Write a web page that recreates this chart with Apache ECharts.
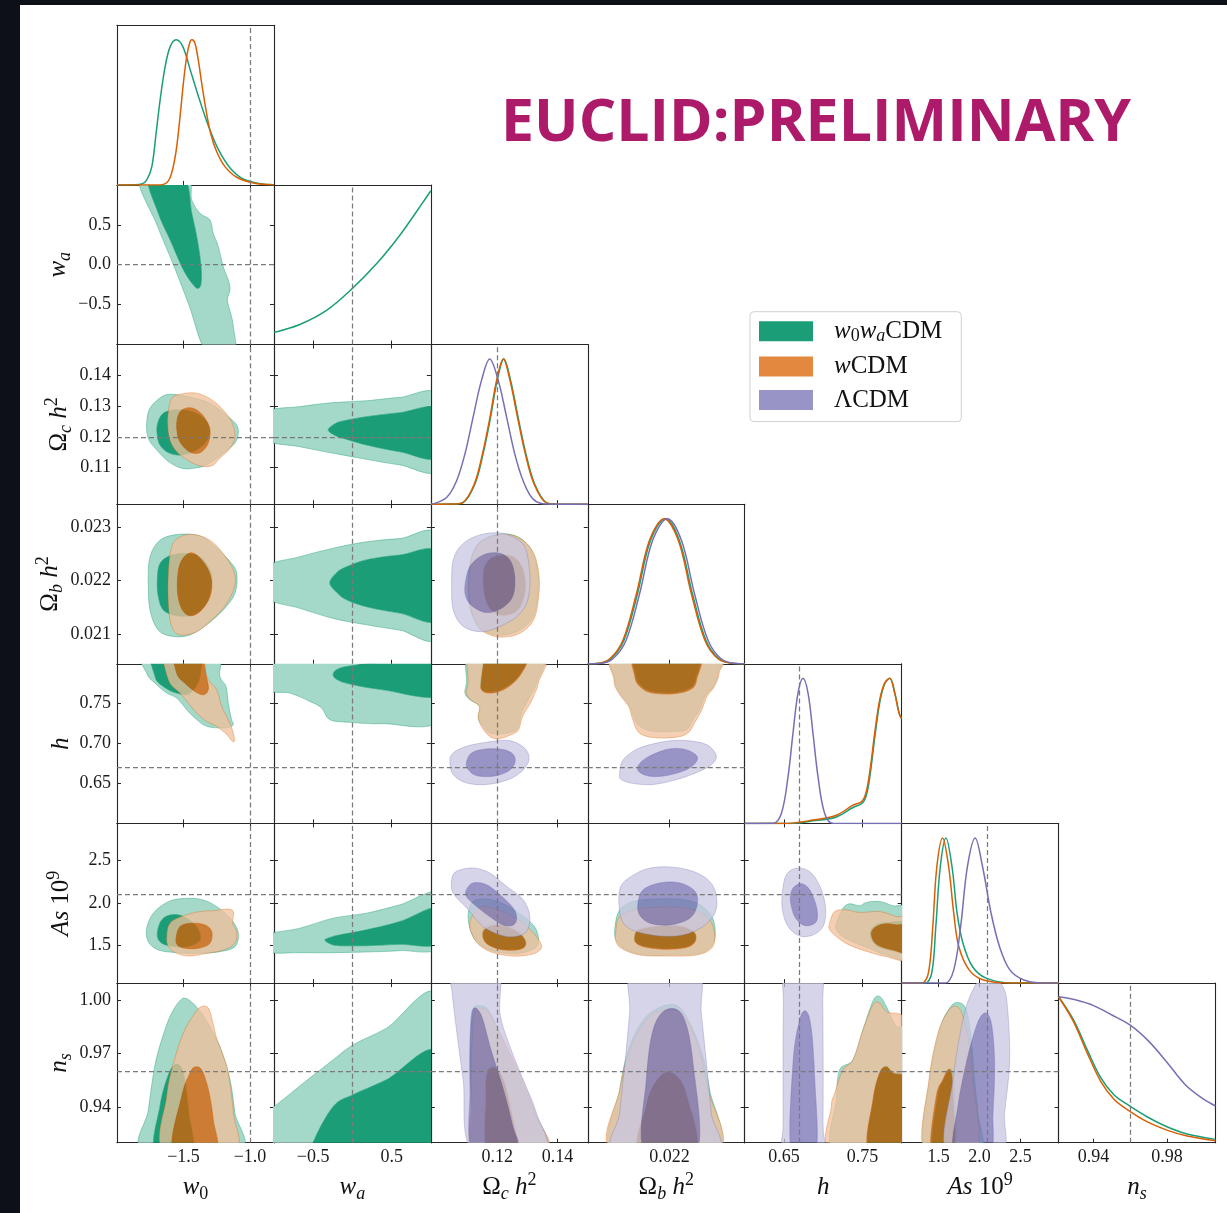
<!DOCTYPE html>
<html>
<head>
<meta charset="utf-8">
<title>Euclid preliminary triangle plot</title>
<script src="https://cdn.jsdelivr.net/npm/echarts@6/dist/echarts.min.js"></script>
<style>
  html, body { margin: 0; padding: 0; background: #0d1117; }
  #page { position: absolute; left: 20px; top: 5px; width: 1207px; height: 1208px; background: #fff; }
  #chart { position: absolute; left: 0; top: 0; width: 1227px; height: 1213px; }
</style>
</head>
<body>
<div id="page"></div>
<div id="chart"></div>
<script>
// parameter order: w0, wa, Omega_c h^2, Omega_b h^2, h, As 1e9, ns
const fiducial = [-1.0, 0.0, 0.121, 0.022, 0.67, 2.1, 0.96];
const xRange = [[-2.0, -0.82], [-1, 1], [0.098, 0.150], [0.02044, 0.02344], [0.6, 0.8], [1.05, 2.965], [0.9209, 1.0065]];
const yRange = [null, [-1, 1], [0.0981, 0.1501], [0.020437, 0.023437], [0.6, 0.8], [1.05, 2.94], [0.920, 1.0095]];
const xTicks = [[-1.5, -1.0], [-0.5, 0.5], [0.12, 0.14], [0.022], [0.65, 0.75], [1.5, 2.0, 2.5], [0.94, 0.98]];
const xTickLabels = [['−1.5', '−1.0'], ['−0.5', '0.5'], ['0.12', '0.14'], ['0.022'], ['0.65', '0.75'], ['1.5', '2.0', '2.5'], ['0.94', '0.98']];
const yTicks = [null, [-0.5, 0, 0.5], [0.11, 0.12, 0.13, 0.14], [0.021, 0.022, 0.023], [0.65, 0.70, 0.75], [1.5, 2.0, 2.5], [0.94, 0.97, 1.00]];
const yTickLabels = [null, ['−0.5', '0.0', '0.5'], ['0.11', '0.12', '0.13', '0.14'], ['0.021', '0.022', '0.023'], ['0.65', '0.70', '0.75'], ['1.5', '2.0', '2.5'], ['0.94', '0.97', '1.00']];
const axisTitles = ['{i|w}{sub|0}', '{i|w}{subi|a}', '{r|Ω}{subi|c}{r| }{i|h}{sup|2}', '{r|Ω}{subi|b}{r| }{i|h}{sup|2}', '{i|h}', '{i|As}{r| 10}{sup|9}', '{i|n}{subi|s}'];

const MODELS = ['w0waCDM', 'wCDM', 'LCDM'];
const LEGEND_LABELS = ['{i|w}{sub|0}{i|w}{subi|a}{r|CDM}', '{i|w}{r|CDM}', '{r|ΛCDM}'];

// 1D marginals [value, normalised density]
const w0_1d_g = [[-2.0,0],[-1.87,0.001],[-1.814,0.006],[-1.776,0.034],[-1.738,0.126],[-1.706,0.356],[-1.676,0.585],[-1.638,0.815],[-1.600,0.953],[-1.555,1.0],[-1.505,0.953],[-1.449,0.792],[-1.387,0.608],[-1.311,0.402],[-1.236,0.241],[-1.148,0.115],[-1.048,0.039],[-0.922,0.009],[-0.82,0.002]];
const w0_1d_o = [[-2.0,0],[-1.677,0],[-1.614,0.028],[-1.577,0.126],[-1.551,0.264],[-1.526,0.47],[-1.501,0.700],[-1.476,0.884],[-1.451,0.987],[-1.436,1.0],[-1.414,0.976],[-1.389,0.861],[-1.363,0.700],[-1.331,0.517],[-1.296,0.356],[-1.251,0.23],[-1.188,0.126],[-1.100,0.053],[-0.975,0.014],[-0.82,0.002]];
const wa_1d_g = [[-1.0,0.083],[-0.67,0.138],[-0.33,0.235],[0.0,0.387],[0.31,0.558],[0.6,0.75],[0.86,0.95],[1.0,1.06]];
const oc_1d_g = [[0.098,0],[0.1053,0.001],[0.1087,0.011],[0.1126,0.139],[0.1153,0.347],[0.1178,0.60],[0.12,0.855],[0.1222,1.0],[0.1244,0.855],[0.1269,0.60],[0.1295,0.347],[0.1324,0.139],[0.1363,0.011],[0.1396,0.001],[0.150,0]];
const oc_1d_o = [[0.098,0],[0.1051,0.001],[0.1085,0.011],[0.1124,0.139],[0.1151,0.347],[0.1176,0.60],[0.1198,0.855],[0.1220,1.0],[0.1242,0.855],[0.1267,0.60],[0.1293,0.347],[0.1322,0.139],[0.1361,0.011],[0.1394,0.001],[0.150,0]];
const oc_1d_p = [[0.098,0],[0.0988,0.002],[0.1032,0.046],[0.1065,0.16],[0.1093,0.347],[0.112,0.60],[0.1148,0.855],[0.1175,1.0],[0.1203,0.855],[0.1231,0.60],[0.1258,0.347],[0.1286,0.16],[0.1319,0.035],[0.1363,0.001],[0.150,0]];
const ob_1d_g = [[0.02044,0],[0.02063,0.002],[0.02088,0.035],[0.02113,0.161],[0.02139,0.483],[0.02164,0.851],[0.02192,1.0],[0.02219,0.851],[0.02244,0.483],[0.02270,0.161],[0.02295,0.035],[0.02324,0.002],[0.02344,0]];
const ob_1d_o = [[0.02044,0],[0.02061,0.002],[0.02086,0.035],[0.02111,0.161],[0.02137,0.483],[0.02162,0.851],[0.02190,1.0],[0.02217,0.851],[0.02242,0.483],[0.02268,0.161],[0.02293,0.035],[0.02322,0.002],[0.02344,0]];
const ob_1d_p = [[0.02044,0],[0.02067,0.002],[0.02092,0.035],[0.02117,0.161],[0.02143,0.483],[0.02168,0.851],[0.02196,1.0],[0.02223,0.851],[0.02248,0.483],[0.02274,0.161],[0.02299,0.035],[0.02328,0.002],[0.02344,0]];
const h_1d_g = [[0.6,0],[0.655,0],[0.69,0.02],[0.7168,0.045],[0.738,0.11],[0.7486,0.135],[0.7535,0.17],[0.758,0.27],[0.7622,0.437],[0.7664,0.621],[0.7727,0.851],[0.7788,0.967],[0.785,1.0],[0.7914,0.898],[0.7968,0.76],[0.80,0.72]];
const h_1d_o = [[0.6,0],[0.65,0],[0.687,0.023],[0.7168,0.057],[0.738,0.126],[0.7486,0.149],[0.7529,0.184],[0.7571,0.276],[0.7614,0.437],[0.7656,0.621],[0.772,0.851],[0.7783,0.967],[0.7847,1.0],[0.7911,0.898],[0.7966,0.76],[0.80,0.72]];
const h_1d_p = [[0.6,0],[0.636,0.001],[0.6467,0.069],[0.6552,0.322],[0.6615,0.621],[0.6679,0.898],[0.6743,1.0],[0.6807,0.898],[0.687,0.621],[0.6934,0.322],[0.7019,0.069],[0.7125,0.001],[0.8,0]];
const as_1d_g = [[1.05,0],[1.335,0],[1.417,0.069],[1.467,0.39],[1.521,0.80],[1.591,1.0],[1.665,0.80],[1.727,0.48],[1.798,0.275],[1.914,0.114],[2.08,0.034],[2.40,0.001],[2.965,0]];
const as_1d_o = [[1.05,0],[1.293,0],[1.376,0.069],[1.43,0.39],[1.479,0.80],[1.55,1.0],[1.624,0.80],[1.686,0.48],[1.748,0.25],[1.873,0.091],[2.038,0.023],[2.33,0.001],[2.965,0]];
const as_1d_p = [[1.05,0],[1.583,0],[1.686,0.091],[1.77,0.39],[1.852,0.80],[1.947,1.0],[2.038,0.80],[2.142,0.48],[2.245,0.25],[2.37,0.091],[2.535,0.023],[2.742,0.001],[2.965,0]];
const ns_1d_g = [[0.9209,1.006],[0.9291,0.845],[0.9366,0.638],[0.9438,0.45],[0.9511,0.33],[0.9588,0.26],[0.9691,0.179],[0.98,0.11],[0.991,0.06],[1.0065,0.023]];
const ns_1d_o = [[0.9209,1.006],[0.9291,0.833],[0.9366,0.616],[0.9438,0.425],[0.9511,0.30],[0.9588,0.225],[0.9691,0.145],[0.98,0.087],[0.991,0.046],[1.0065,0.014]];
const ns_1d_p = [[0.9209,1.006],[0.93,0.985],[0.94,0.945],[0.95,0.88],[0.96,0.81],[0.97,0.70],[0.98,0.555],[0.99,0.40],[1.0,0.30],[1.0065,0.253]];

// 2D contours [x, y]: 95% (outer) and 68% (inner)
const w0_wa_g95 = [[-1.83,1.1],[-1.48,1.1],[-1.438,0.812],[-1.376,0.645],[-1.301,0.561],[-1.276,0.395],[-1.238,0.227],[-1.201,-0.024],[-1.163,-0.19],[-1.15,-0.316],[-1.17,-0.441],[-1.145,-0.608],[-1.125,-0.776],[-1.12,-1.1],[-1.325,-1.1],[-1.46,-0.5],[-1.576,0.0],[-1.70,0.5]];
const w0_wa_g68 = [[-1.76,1.1],[-1.50,1.1],[-1.438,0.645],[-1.396,0.311],[-1.368,-0.024],[-1.368,-0.233],[-1.389,-0.295],[-1.425,-0.253],[-1.50,-0.065],[-1.60,0.311],[-1.689,0.645]];

const w0_oc_g95 = [[-1.777,0.1245],[-1.752,0.1294],[-1.664,0.1331],[-1.589,0.1339],[-1.464,0.1331],[-1.301,0.1310],[-1.163,0.1266],[-1.10,0.1239],[-1.088,0.1212],[-1.113,0.1180],[-1.201,0.1147],[-1.326,0.1109],[-1.426,0.1098],[-1.514,0.1098],[-1.614,0.1120],[-1.702,0.1158],[-1.765,0.1196]];
const w0_oc_g68 = [[-1.697,0.1239],[-1.664,0.1272],[-1.602,0.1286],[-1.501,0.1288],[-1.401,0.1277],[-1.326,0.1250],[-1.301,0.1217],[-1.338,0.1180],[-1.426,0.1152],[-1.526,0.1141],[-1.614,0.1149],[-1.677,0.1174],[-1.697,0.1207]];
const w0_oc_o95 = [[-1.614,0.1282],[-1.589,0.1326],[-1.526,0.1339],[-1.426,0.1344],[-1.326,0.1331],[-1.226,0.1299],[-1.138,0.1250],[-1.113,0.1201],[-1.150,0.1163],[-1.226,0.1131],[-1.288,0.1106],[-1.376,0.1106],[-1.464,0.1123],[-1.551,0.1152],[-1.602,0.1190],[-1.619,0.1239]];
const w0_oc_o68 = [[-1.551,0.1245],[-1.526,0.1282],[-1.464,0.1295],[-1.401,0.1288],[-1.338,0.1261],[-1.301,0.1223],[-1.314,0.1180],[-1.363,0.1152],[-1.426,0.1147],[-1.489,0.1163],[-1.539,0.1196]];
const wa_oc_g95 = [[-1.1,0.1280],[-0.669,0.1299],[-0.245,0.1312],[0.181,0.1318],[0.605,0.1329],[1.1,0.1335],[1.1,0.1096],[0.605,0.1109],[0.181,0.1127],[-0.245,0.1147],[-0.669,0.1168],[-1.1,0.1192]];
const wa_oc_g68 = [[-0.308,0.1223],[-0.22,0.1243],[-0.117,0.1252],[0.181,0.1266],[0.605,0.1279],[1.1,0.1290],[1.1,0.1134],[0.605,0.1152],[0.181,0.1174],[-0.117,0.1196],[-0.22,0.1205]];

const w0_ob_g95 = [[-1.765,0.02199],[-1.752,0.02245],[-1.677,0.02276],[-1.539,0.02287],[-1.376,0.02284],[-1.263,0.02264],[-1.150,0.02236],[-1.100,0.02214],[-1.113,0.02176],[-1.201,0.02145],[-1.326,0.02117],[-1.451,0.02098],[-1.577,0.02095],[-1.689,0.02107],[-1.752,0.02145]];
const w0_ob_g68 = [[-1.697,0.02199],[-1.677,0.02232],[-1.589,0.02248],[-1.476,0.02251],[-1.376,0.02245],[-1.301,0.02220],[-1.288,0.02195],[-1.326,0.02157],[-1.426,0.02136],[-1.551,0.02134],[-1.652,0.02145],[-1.689,0.02170]];
const w0_ob_o95 = [[-1.614,0.02214],[-1.589,0.02264],[-1.526,0.02282],[-1.426,0.02287],[-1.301,0.02276],[-1.201,0.02251],[-1.125,0.02220],[-1.113,0.02192],[-1.175,0.02157],[-1.276,0.02129],[-1.401,0.02104],[-1.526,0.02098],[-1.589,0.02114],[-1.614,0.02157]];
const w0_ob_o68 = [[-1.546,0.02199],[-1.526,0.02232],[-1.464,0.02251],[-1.401,0.02248],[-1.326,0.02226],[-1.288,0.02199],[-1.301,0.02170],[-1.363,0.02145],[-1.438,0.02134],[-1.501,0.02142],[-1.539,0.02167]];
const wa_ob_g95 = [[-1.1,0.02225],[-0.669,0.02245],[-0.245,0.02261],[0.181,0.02273],[0.605,0.02279],[1.1,0.02282],[1.1,0.02097],[0.605,0.02107],[0.181,0.02117],[-0.245,0.02129],[-0.669,0.02148],[-1.1,0.02169]];
const wa_ob_g68 = [[-0.287,0.02196],[-0.2,0.02215],[-0.074,0.02226],[0.181,0.02239],[0.605,0.02248],[1.1,0.02252],[1.1,0.02128],[0.605,0.02139],[0.181,0.02151],[-0.074,0.02164],[-0.2,0.02178]];
const oc_ob_g95 = [[0.1115,0.02245],[0.1142,0.02273],[0.1192,0.02286],[0.1242,0.02287],[0.1286,0.02276],[0.1319,0.02251],[0.1335,0.02214],[0.1335,0.02176],[0.1319,0.02132],[0.1275,0.02107],[0.1220,0.02098],[0.1175,0.02101],[0.1137,0.02114],[0.1109,0.02151],[0.1104,0.02199]];
const oc_ob_g68 = [[0.1153,0.02214],[0.1170,0.02239],[0.1209,0.02248],[0.1253,0.02245],[0.1280,0.02226],[0.1291,0.02199],[0.1286,0.02170],[0.1264,0.02145],[0.1220,0.02136],[0.1181,0.02145],[0.1159,0.02170]];
const oc_ob_o95 = [[0.1117,0.02245],[0.1145,0.02272],[0.1195,0.02285],[0.1245,0.02286],[0.1290,0.02274],[0.1323,0.02249],[0.1338,0.02212],[0.1338,0.02174],[0.1322,0.02128],[0.1278,0.02102],[0.1222,0.02094],[0.1177,0.02098],[0.1139,0.02112],[0.1111,0.02150],[0.1106,0.02199]];
const oc_ob_o68 = [[0.1155,0.02213],[0.1172,0.02238],[0.1211,0.02247],[0.1255,0.02244],[0.1282,0.02225],[0.1293,0.02198],[0.1288,0.02169],[0.1266,0.02144],[0.1222,0.02135],[0.1183,0.02144],[0.1161,0.02169]];
const oc_ob_p95 = [[0.1049,0.02189],[0.1054,0.02239],[0.1087,0.02270],[0.1142,0.02286],[0.1203,0.02290],[0.1253,0.02282],[0.1291,0.02264],[0.1306,0.02226],[0.1308,0.02189],[0.1297,0.02157],[0.1264,0.02132],[0.1209,0.02114],[0.1148,0.02104],[0.1087,0.02114],[0.1054,0.02145]];
const oc_ob_p68 = [[0.1093,0.02189],[0.1109,0.02226],[0.1153,0.02248],[0.1203,0.02252],[0.1242,0.02239],[0.1258,0.02207],[0.1251,0.02170],[0.1214,0.02148],[0.1165,0.02140],[0.1120,0.02151],[0.1098,0.02167]];

const w0_h_g95 = [[-1.81,0.82],[-1.27,0.82],[-1.226,0.7842],[-1.180,0.7717],[-1.163,0.7508],[-1.138,0.730],[-1.125,0.7258],[-1.138,0.7217],[-1.201,0.7196],[-1.326,0.7217],[-1.414,0.7321],[-1.476,0.7425],[-1.551,0.7571],[-1.626,0.7633],[-1.714,0.7758],[-1.777,0.7883]];
const w0_h_g68 = [[-1.73,0.82],[-1.40,0.82],[-1.376,0.7842],[-1.451,0.7633],[-1.551,0.7633],[-1.652,0.7717],[-1.714,0.7842]];
const w0_h_o95 = [[-1.64,0.82],[-1.38,0.82],[-1.326,0.7842],[-1.251,0.7675],[-1.213,0.7467],[-1.163,0.730],[-1.125,0.7133],[-1.118,0.7029],[-1.138,0.7038],[-1.175,0.7113],[-1.251,0.7217],[-1.326,0.7279],[-1.401,0.7383],[-1.464,0.7508],[-1.526,0.7633],[-1.614,0.780]];
const w0_h_o68 = [[-1.57,0.82],[-1.39,0.82],[-1.326,0.7821],[-1.314,0.7675],[-1.351,0.7613],[-1.414,0.7654],[-1.489,0.7758],[-1.551,0.7883]];
const wa_h_g95 = [[-1.1,0.82],[1.1,0.82],[1.1,0.7292],[0.392,0.725],[-0.032,0.7267],[-0.287,0.730],[-0.392,0.7446],[-0.541,0.7529],[-0.796,0.7633],[-1.1,0.770]];
const wa_h_g68 = [[-0.245,0.7863],[-0.159,0.7946],[0.181,0.80],[0.6,0.805],[1.1,0.81],[1.1,0.760],[0.392,0.7675],[0.01,0.7738],[-0.17,0.779]];
const oc_h_g95 = [[0.1120,0.82],[0.1352,0.82],[0.1330,0.7758],[0.1314,0.7633],[0.1297,0.7508],[0.1280,0.7383],[0.1275,0.730],[0.1264,0.7175],[0.1242,0.7142],[0.1214,0.7125],[0.1175,0.7133],[0.1153,0.7217],[0.1137,0.7321],[0.1142,0.7467],[0.1109,0.755],[0.1093,0.7633],[0.1098,0.7758]];
const oc_h_g68 = [[0.1160,0.82],[0.1305,0.82],[0.1295,0.800],[0.1262,0.781],[0.1218,0.769],[0.1173,0.765],[0.1146,0.769],[0.1146,0.781],[0.1153,0.800]];
const oc_h_o95 = [[0.1125,0.82],[0.1358,0.82],[0.1336,0.7758],[0.1325,0.7633],[0.1310,0.7508],[0.1290,0.7383],[0.1280,0.730],[0.1270,0.7167],[0.1245,0.7110],[0.1205,0.7060],[0.1175,0.7090],[0.1150,0.720],[0.1137,0.7321],[0.1140,0.7467],[0.1112,0.755],[0.1098,0.7633],[0.1103,0.7758]];
const oc_h_o68 = [[0.1164,0.82],[0.1308,0.82],[0.1297,0.800],[0.1264,0.780],[0.1220,0.7675],[0.1175,0.7633],[0.1148,0.7675],[0.1148,0.780],[0.1155,0.800]];
const oc_h_p95 = [[0.1043,0.6779],[0.1054,0.6883],[0.1098,0.6967],[0.1164,0.7017],[0.1231,0.7042],[0.1275,0.6988],[0.1302,0.6883],[0.1302,0.6758],[0.1275,0.6633],[0.1231,0.6542],[0.1164,0.6488],[0.1098,0.6508],[0.1054,0.6613]];
const oc_h_p68 = [[0.1098,0.6758],[0.1115,0.6883],[0.1164,0.6933],[0.1220,0.6925],[0.1253,0.6863],[0.1258,0.6758],[0.1236,0.6654],[0.1186,0.6592],[0.1131,0.660],[0.1104,0.6675]];
const ob_h_g95 = [[0.02099,0.82],[0.02293,0.82],[0.02293,0.7883],[0.02284,0.7717],[0.02268,0.7592],[0.02258,0.7425],[0.02245,0.730],[0.02233,0.7175],[0.02207,0.7154],[0.02169,0.7154],[0.02143,0.7217],[0.02131,0.7342],[0.02124,0.7467],[0.02105,0.7633],[0.02096,0.780]];
const ob_h_g68 = [[0.02139,0.82],[0.02253,0.82],[0.02250,0.781],[0.02237,0.769],[0.02207,0.764],[0.02170,0.765],[0.02149,0.771],[0.02136,0.785]];
const ob_h_o95 = [[0.02099,0.82],[0.02295,0.82],[0.02295,0.7883],[0.02286,0.7717],[0.02272,0.7592],[0.02262,0.7425],[0.02250,0.728],[0.02235,0.7130],[0.02207,0.7075],[0.02165,0.708],[0.02140,0.715],[0.02128,0.7342],[0.02122,0.7467],[0.02103,0.7633],[0.02094,0.780]];
const ob_h_o68 = [[0.02137,0.82],[0.02255,0.82],[0.02252,0.780],[0.02239,0.7675],[0.02207,0.7625],[0.02169,0.7633],[0.02147,0.7696],[0.02134,0.7842]];
const ob_h_p95 = [[0.02105,0.6633],[0.02112,0.680],[0.02143,0.6946],[0.02194,0.7029],[0.02233,0.7038],[0.02271,0.6988],[0.02289,0.6863],[0.02284,0.6758],[0.02258,0.6654],[0.02214,0.655],[0.02169,0.6488],[0.02131,0.650],[0.02108,0.655]];
const ob_h_p68 = [[0.02140,0.6717],[0.02156,0.6821],[0.02194,0.6925],[0.02226,0.6933],[0.02250,0.6863],[0.02252,0.6779],[0.02233,0.6675],[0.02194,0.660],[0.02163,0.6592],[0.02143,0.6642]];

const w0_as_g95 = [[-1.777,1.700],[-1.727,1.878],[-1.626,2.004],[-1.526,2.048],[-1.376,2.044],[-1.251,1.957],[-1.138,1.798],[-1.088,1.640],[-1.113,1.481],[-1.226,1.422],[-1.376,1.402],[-1.551,1.410],[-1.689,1.442],[-1.765,1.540]];
const w0_as_g68 = [[-1.697,1.640],[-1.664,1.798],[-1.589,1.858],[-1.501,1.838],[-1.401,1.719],[-1.376,1.561],[-1.476,1.481],[-1.602,1.489],[-1.677,1.540]];
const w0_as_o95 = [[-1.626,1.600],[-1.602,1.759],[-1.501,1.846],[-1.376,1.897],[-1.263,1.909],[-1.175,1.926],[-1.125,1.897],[-1.130,1.759],[-1.100,1.660],[-1.113,1.521],[-1.201,1.442],[-1.326,1.402],[-1.451,1.370],[-1.551,1.402],[-1.614,1.481]];
const w0_as_o68 = [[-1.556,1.580],[-1.526,1.719],[-1.438,1.759],[-1.338,1.739],[-1.288,1.660],[-1.301,1.521],[-1.389,1.462],[-1.489,1.462],[-1.546,1.501]];
const wa_as_g95 = [[-1.1,1.615],[-0.669,1.700],[-0.245,1.819],[0.181,1.878],[0.605,1.977],[1.1,2.11],[1.1,1.478],[0.605,1.434],[0.181,1.418],[-0.245,1.410],[-0.669,1.410],[-1.1,1.422]];
const wa_as_g68 = [[-0.350,1.561],[-0.25,1.60],[-0.159,1.620],[0.181,1.680],[0.605,1.778],[1.1,1.94],[1.1,1.519],[0.605,1.509],[0.181,1.493],[-0.159,1.493],[-0.27,1.51]];
const oc_as_g95 = [[0.1104,1.878],[0.1120,2.016],[0.1164,2.048],[0.1214,1.997],[0.1264,1.897],[0.1319,1.739],[0.1336,1.600],[0.1330,1.481],[0.1286,1.410],[0.1231,1.402],[0.1175,1.442],[0.1131,1.540],[0.1109,1.699]];
const oc_as_g68 = [[0.1150,1.650],[0.1172,1.735],[0.1220,1.745],[0.1266,1.675],[0.1291,1.575],[0.1291,1.490],[0.1264,1.450],[0.1209,1.455],[0.1162,1.530]];
const oc_as_o95 = [[0.1109,1.759],[0.1137,1.937],[0.1175,1.947],[0.1231,1.878],[0.1286,1.759],[0.1330,1.600],[0.1347,1.481],[0.1325,1.402],[0.1275,1.370],[0.1220,1.382],[0.1164,1.442],[0.1126,1.561]];
const oc_as_o68 = [[0.1153,1.640],[0.1175,1.719],[0.1220,1.727],[0.1264,1.660],[0.1291,1.561],[0.1291,1.481],[0.1264,1.442],[0.1209,1.450],[0.1164,1.521]];
const oc_as_p95 = [[0.1049,2.274],[0.1065,2.373],[0.1120,2.413],[0.1175,2.353],[0.1231,2.195],[0.1286,2.036],[0.1308,1.838],[0.1297,1.660],[0.1258,1.600],[0.1209,1.620],[0.1153,1.719],[0.1104,1.917],[0.1054,2.116]];
const oc_as_p68 = [[0.1098,2.155],[0.1120,2.235],[0.1164,2.215],[0.1209,2.096],[0.1253,1.937],[0.1264,1.818],[0.1253,1.739],[0.1220,1.739],[0.1175,1.838],[0.1125,1.977],[0.1098,2.076]];
const ob_as_g95 = [[0.02096,1.719],[0.02105,1.917],[0.02131,2.016],[0.02169,2.044],[0.02220,2.044],[0.02252,1.997],[0.02277,1.878],[0.02287,1.719],[0.02284,1.521],[0.02258,1.402],[0.02207,1.382],[0.02156,1.382],[0.02118,1.442],[0.02098,1.561]];
const ob_as_g68 = [[0.02134,1.610],[0.02143,1.690],[0.02182,1.730],[0.02220,1.730],[0.02247,1.658],[0.02249,1.551],[0.02233,1.483],[0.02194,1.460],[0.02156,1.483],[0.02137,1.531]];
const ob_as_o95 = [[0.02098,1.680],[0.02105,1.838],[0.02137,1.926],[0.02182,1.949],[0.02233,1.937],[0.02271,1.838],[0.02285,1.680],[0.02283,1.481],[0.02252,1.382],[0.02194,1.370],[0.02143,1.382],[0.02108,1.462],[0.02097,1.561]];
const ob_as_o68 = [[0.02134,1.600],[0.02143,1.680],[0.02182,1.719],[0.02220,1.719],[0.02247,1.648],[0.02249,1.541],[0.02233,1.473],[0.02194,1.450],[0.02156,1.473],[0.02137,1.521]];
const ob_as_p95 = [[0.02105,2.155],[0.02118,2.274],[0.02156,2.401],[0.02201,2.425],[0.02245,2.373],[0.02277,2.254],[0.02290,2.076],[0.02287,1.878],[0.02264,1.719],[0.02226,1.620],[0.02182,1.608],[0.02137,1.660],[0.02112,1.759],[0.02104,1.957]];
const ob_as_p68 = [[0.02140,1.997],[0.02150,2.155],[0.02182,2.235],[0.02220,2.235],[0.02249,2.135],[0.02253,1.977],[0.02239,1.818],[0.02201,1.739],[0.02163,1.759],[0.02143,1.858]];
const h_as_g95 = [[0.7168,1.759],[0.7253,1.937],[0.7338,1.989],[0.7465,1.965],[0.7550,2.005],[0.7720,2.016],[0.7890,1.965],[0.81,1.92],[0.81,1.36],[0.7805,1.382],[0.7635,1.442],[0.7423,1.521],[0.7253,1.600],[0.7168,1.680]];
const h_as_g68 = [[0.7600,1.650],[0.7670,1.735],[0.7805,1.765],[0.81,1.75],[0.81,1.43],[0.7762,1.46],[0.7640,1.53]];
const h_as_o95 = [[0.7083,1.759],[0.7146,1.897],[0.7295,1.917],[0.7465,1.886],[0.7720,1.897],[0.7932,1.838],[0.81,1.80],[0.81,1.34],[0.7805,1.362],[0.7635,1.402],[0.7380,1.481],[0.7210,1.569],[0.7083,1.680]];
const h_as_o68 = [[0.7614,1.640],[0.7677,1.719],[0.7805,1.751],[0.7932,1.739],[0.81,1.72],[0.81,1.41],[0.7890,1.442],[0.7762,1.473],[0.7656,1.529]];
const h_as_p95 = [[0.6480,2.116],[0.6531,2.334],[0.6679,2.413],[0.6849,2.353],[0.6977,2.155],[0.7032,1.917],[0.6998,1.719],[0.6870,1.620],[0.6701,1.608],[0.6552,1.719],[0.6480,1.917]];
const h_as_p68 = [[0.6582,2.036],[0.6616,2.175],[0.6722,2.227],[0.6828,2.155],[0.6913,1.957],[0.6921,1.798],[0.6849,1.739],[0.6743,1.739],[0.6637,1.838]];

const w0_ns_g95 = [[-1.797,0.915],[-1.764,0.9385],[-1.714,0.9636],[-1.652,0.9805],[-1.589,0.9927],[-1.514,1.0005],[-1.451,0.9996],[-1.364,0.9927],[-1.276,0.9815],[-1.213,0.9712],[-1.150,0.9553],[-1.113,0.9366],[-1.08,0.915]];
const w0_ns_g68 = [[-1.714,0.915],[-1.677,0.9403],[-1.627,0.9553],[-1.576,0.9631],[-1.526,0.9631],[-1.49,0.9553],[-1.46,0.9366],[-1.44,0.915]];
const w0_ns_o95 = [[-1.647,0.915],[-1.627,0.9459],[-1.576,0.9645],[-1.501,0.9815],[-1.414,0.9927],[-1.364,0.9964],[-1.313,0.9955],[-1.281,0.988],[-1.251,0.9787],[-1.213,0.9712],[-1.163,0.9590],[-1.125,0.9366],[-1.118,0.915]];
const w0_ns_o68 = [[-1.576,0.915],[-1.514,0.9459],[-1.451,0.9590],[-1.414,0.9624],[-1.364,0.9609],[-1.313,0.9497],[-1.276,0.9328],[-1.263,0.915]];
const wa_ns_g95 = [[-1.1,0.9385],[-1.0,0.9403],[-0.626,0.9534],[-0.244,0.9665],[0.011,0.9749],[0.435,0.9842],[1.1,1.001],[1.1,0.90],[-1.1,0.90]];
const wa_ns_g68 = [[-0.56,0.905],[-0.499,0.9201],[-0.244,0.9403],[0.011,0.9469],[0.435,0.9553],[1.1,0.9700],[1.1,0.90],[-0.56,0.90]];
const oc_ns_g95 = [[0.1109,0.9684],[0.1120,0.9936],[0.1142,0.9968],[0.1170,0.9945],[0.1203,0.9833],[0.1242,0.9684],[0.1286,0.9515],[0.1325,0.9366],[0.1362,0.915],[0.1131,0.915],[0.1120,0.9366]];
const oc_ns_g68 = [[0.1162,0.9553],[0.1173,0.9618],[0.1196,0.9618],[0.1218,0.9558],[0.1240,0.9408],[0.1262,0.915],[0.1166,0.915],[0.1162,0.9459]];
const oc_ns_o95 = [[0.1115,0.940],[0.1114,0.9660],[0.1125,0.9927],[0.1148,0.9950],[0.1170,0.9936],[0.1209,0.9815],[0.1253,0.9665],[0.1297,0.9497],[0.1330,0.9347],[0.1365,0.915],[0.1125,0.915]];
const oc_ns_o68 = [[0.1164,0.9553],[0.1175,0.9613],[0.1198,0.9613],[0.1220,0.9553],[0.1242,0.9403],[0.1264,0.915],[0.1168,0.915],[0.1164,0.9459]];
const oc_ns_p95 = [[0.1046,1.02],[0.1050,1.005],[0.1065,0.9833],[0.1087,0.9553],[0.1120,0.915],[0.1355,0.915],[0.1330,0.9366],[0.1286,0.9553],[0.1242,0.9740],[0.1209,0.9927],[0.1200,1.02]];
const oc_ns_p68 = [[0.1110,0.975],[0.1115,0.992],[0.1128,0.9955],[0.1150,0.990],[0.1180,0.9715],[0.1220,0.950],[0.1250,0.930],[0.1265,0.915],[0.1120,0.915],[0.1110,0.950]];
const ob_ns_g95 = [[0.02094,0.915],[0.02105,0.9497],[0.02124,0.9740],[0.02156,0.9908],[0.02198,0.9973],[0.02226,0.9936],[0.02258,0.9740],[0.02277,0.9497],[0.02290,0.915]];
const ob_ns_g68 = [[0.02143,0.915],[0.02156,0.9403],[0.02169,0.9515],[0.02191,0.9595],[0.02214,0.9576],[0.02233,0.9464],[0.02249,0.915]];
const ob_ns_o95 = [[0.02091,0.915],[0.02105,0.9497],[0.02127,0.9740],[0.02162,0.9908],[0.02198,0.9945],[0.02226,0.9918],[0.02255,0.9740],[0.02274,0.9497],[0.02293,0.915]];
const ob_ns_o68 = [[0.02143,0.915],[0.02156,0.9403],[0.02169,0.9515],[0.02191,0.9590],[0.02214,0.9571],[0.02233,0.9459],[0.02249,0.915]];
const ob_ns_p95 = [[0.02131,1.02],[0.02124,0.9927],[0.02115,0.9646],[0.02105,0.9366],[0.02099,0.915],[0.02287,0.915],[0.02280,0.9366],[0.02271,0.9646],[0.02261,0.9927],[0.02252,1.02]];
const ob_ns_p68 = [[0.02153,0.915],[0.02156,0.9553],[0.02169,0.9833],[0.02194,0.9945],[0.02226,0.9908],[0.02245,0.9646],[0.02252,0.915]];
const h_ns_g95 = [[0.7147,0.915],[0.7168,0.9440],[0.7210,0.9609],[0.7380,0.9665],[0.7507,0.9833],[0.7635,0.9995],[0.7720,1.0020],[0.7805,0.9964],[0.7932,0.9852],[0.81,0.980],[0.81,0.915]];
const h_ns_g68 = [[0.7590,0.915],[0.7640,0.9445],[0.7722,0.9596],[0.7805,0.9630],[0.7890,0.9596],[0.81,0.954],[0.81,0.915]];
const h_ns_o95 = [[0.7104,0.915],[0.7104,0.9403],[0.7147,0.9478],[0.7253,0.9609],[0.7380,0.9665],[0.7507,0.9833],[0.7635,0.9973],[0.7720,0.9983],[0.7805,0.9936],[0.81,0.9833],[0.81,0.915]];
const h_ns_o68 = [[0.7584,0.915],[0.7635,0.9440],[0.7720,0.9590],[0.7805,0.9624],[0.7890,0.9590],[0.81,0.953],[0.81,0.915]];
const h_ns_p95 = [[0.6495,1.03],[0.6492,1.0],[0.6488,0.96],[0.6490,0.93],[0.6490,0.91],[0.6998,0.91],[0.6998,0.93],[0.7000,0.96],[0.6995,1.0],[0.6990,1.03]];
const h_ns_p68 = [[0.6595,0.915],[0.6616,0.9646],[0.6701,0.9889],[0.6786,0.9936],[0.6849,0.9833],[0.6892,0.9553],[0.6904,0.915]];
const as_ns_g95 = [[1.343,0.915],[1.391,0.9553],[1.513,0.9833],[1.635,0.9955],[1.737,0.9986],[1.839,0.9945],[1.900,0.9777],[1.940,0.9553],[1.981,0.9366],[2.001,0.915]];
const as_ns_g68 = [[1.43,0.915],[1.49,0.9459],[1.57,0.9560],[1.635,0.9609],[1.676,0.9590],[1.70,0.9459],[1.70,0.915]];
const as_ns_o95 = [[1.33,0.915],[1.383,0.9553],[1.493,0.9814],[1.615,0.9936],[1.717,0.9964],[1.798,0.9908],[1.879,0.9740],[1.920,0.9553],[1.961,0.915]];
const as_ns_o68 = [[1.412,0.915],[1.473,0.9459],[1.554,0.9553],[1.615,0.9609],[1.655,0.9590],[1.676,0.9459],[1.676,0.915]];
const as_ns_p95 = [[1.595,0.915],[1.676,0.9553],[1.798,0.9889],[1.920,1.0057],[2.083,1.015],[2.286,1.0076],[2.347,0.9927],[2.367,0.9646],[2.306,0.9366],[2.265,0.915]];
const as_ns_p68 = [[1.696,0.915],[1.737,0.9403],[1.839,0.9646],[1.961,0.9852],[2.062,0.9927],[2.144,0.9870],[2.184,0.9646],[2.164,0.9366],[2.123,0.915]];

// which contours go in which panel: key "row,col" -> [model, outer, inner]
const panels = {
  '1,0': [[0, w0_wa_g95, w0_wa_g68]],
  '2,0': [[0, w0_oc_g95, w0_oc_g68], [1, w0_oc_o95, w0_oc_o68]],
  '2,1': [[0, wa_oc_g95, wa_oc_g68]],
  '3,0': [[0, w0_ob_g95, w0_ob_g68], [1, w0_ob_o95, w0_ob_o68]],
  '3,1': [[0, wa_ob_g95, wa_ob_g68]],
  '3,2': [[0, oc_ob_g95, oc_ob_g68], [1, oc_ob_o95, oc_ob_o68], [2, oc_ob_p95, oc_ob_p68]],
  '4,0': [[0, w0_h_g95, w0_h_g68], [1, w0_h_o95, w0_h_o68]],
  '4,1': [[0, wa_h_g95, wa_h_g68]],
  '4,2': [[0, oc_h_g95, oc_h_g68], [1, oc_h_o95, oc_h_o68], [2, oc_h_p95, oc_h_p68]],
  '4,3': [[0, ob_h_g95, ob_h_g68], [1, ob_h_o95, ob_h_o68], [2, ob_h_p95, ob_h_p68]],
  '5,0': [[0, w0_as_g95, w0_as_g68], [1, w0_as_o95, w0_as_o68]],
  '5,1': [[0, wa_as_g95, wa_as_g68]],
  '5,2': [[0, oc_as_g95, oc_as_g68], [1, oc_as_o95, oc_as_o68], [2, oc_as_p95, oc_as_p68]],
  '5,3': [[0, ob_as_g95, ob_as_g68], [1, ob_as_o95, ob_as_o68], [2, ob_as_p95, ob_as_p68]],
  '5,4': [[0, h_as_g95, h_as_g68], [1, h_as_o95, h_as_o68], [2, h_as_p95, h_as_p68]],
  '6,0': [[0, w0_ns_g95, w0_ns_g68], [1, w0_ns_o95, w0_ns_o68]],
  '6,1': [[0, wa_ns_g95, wa_ns_g68]],
  '6,2': [[0, oc_ns_g95, oc_ns_g68], [1, oc_ns_o95, oc_ns_o68], [2, oc_ns_p95, oc_ns_p68]],
  '6,3': [[0, ob_ns_g95, ob_ns_g68], [1, ob_ns_o95, ob_ns_o68], [2, ob_ns_p95, ob_ns_p68]],
  '6,4': [[0, h_ns_g95, h_ns_g68], [1, h_ns_o95, h_ns_o68], [2, h_ns_p95, h_ns_p68]],
  '6,5': [[0, as_ns_g95, as_ns_g68], [1, as_ns_o95, as_ns_o68], [2, as_ns_p95, as_ns_p68]]
};
const marginals = [
  [[0, w0_1d_g], [1, w0_1d_o]],
  [[0, wa_1d_g]],
  [[0, oc_1d_g], [1, oc_1d_o], [2, oc_1d_p]],
  [[0, ob_1d_g], [1, ob_1d_o], [2, ob_1d_p]],
  [[0, h_1d_g], [1, h_1d_o], [2, h_1d_p]],
  [[0, as_1d_g], [1, as_1d_o], [2, as_1d_p]],
  [[0, ns_1d_g], [1, ns_1d_o], [2, ns_1d_p]]
];

const SERIF = '"Liberation Serif", "DejaVu Serif", serif';
const FRAME = '#262626';
const LINE_COLORS = ['#1b9e77', '#d95f02', '#7570b3'];
const OUTER_FILL = ['rgb(164,216,200)', 'rgba(240,191,154,0.75)', 'rgba(200,198,225,0.75)'];
const INNER_FILL = ['rgb(27,158,119)', 'rgba(217,95,2,0.75)', 'rgba(117,112,179,0.75)'];
const EDGE = ['rgba(27,158,119,0.5)', 'rgba(217,95,2,0.4)', 'rgba(117,112,179,0.4)'];
const LEGEND_FILL = ['#1b9e77', '#e3883f', '#9894c6'];

const X0 = 117, Y0 = 25.3, CW = 156.93, CH = 159.63;

function makeRich(size, lh) {
  const base = { fontFamily: SERIF, fontSize: size, lineHeight: lh, color: '#111', verticalAlign: 'middle' };
  const small = Math.round(size * 0.7);
  return {
    i: Object.assign({}, base, { fontStyle: 'italic' }),
    r: Object.assign({}, base),
    sub: { fontFamily: SERIF, fontSize: small, lineHeight: Math.round(lh * 0.42), verticalAlign: 'bottom', color: '#111' },
    subi: { fontFamily: SERIF, fontSize: small, fontStyle: 'italic', lineHeight: Math.round(lh * 0.42), verticalAlign: 'bottom', color: '#111' },
    sup: { fontFamily: SERIF, fontSize: small, lineHeight: Math.round(lh * 0.55), verticalAlign: 'top', color: '#111' }
  };
}
const NAME_RICH = makeRich(25, 32);
const LEGEND_RICH = makeRich(25, 28);

function closedPath(pts) {
  const n = pts.length;
  const f = p => p[0].toFixed(2) + ' ' + p[1].toFixed(2);
  let d = 'M' + f(pts[0]);
  for (let k = 0; k < n; k++) {
    const p0 = pts[(k - 1 + n) % n], p1 = pts[k], p2 = pts[(k + 1) % n], p3 = pts[(k + 2) % n];
    const c1 = [p1[0] + (p2[0] - p0[0]) / 6, p1[1] + (p2[1] - p0[1]) / 6];
    const c2 = [p2[0] - (p3[0] - p1[0]) / 6, p2[1] - (p3[1] - p1[1]) / 6];
    d += 'C' + f(c1) + ' ' + f(c2) + ' ' + f(p2);
  }
  return d + 'Z';
}
function signedArea(pts) {
  let s = 0;
  for (let k = 0; k < pts.length; k++) {
    const a = pts[k], b = pts[(k + 1) % pts.length];
    s += a[0] * b[1] - b[0] * a[1];
  }
  return s;
}

function makeAxis(g, position, range, ticks, labels, showTicks, showLabels, title) {
  const isX = position === 'bottom' || position === 'top';
  const ax = {
    type: 'value', gridIndex: g, position: position, min: range[0], max: range[1],
    axisLine: { show: true, onZero: false, lineStyle: { color: FRAME, width: 1.1 } },
    axisTick: { show: showTicks, inside: true, length: 4, customValues: ticks || [], lineStyle: { color: FRAME, width: 1 } },
    axisLabel: {
      show: showLabels, customValues: ticks || [], margin: 6, color: '#1a1a1a', fontFamily: SERIF, fontSize: 18,
      formatter: v => {
        if (!labels) return '';
        let k = 0;
        ticks.forEach((t, idx) => { if (Math.abs(t - v) < Math.abs(ticks[k] - v)) k = idx; });
        return labels[k];
      }
    },
    splitLine: { show: false }
  };
  if (title) {
    ax.name = title;
    ax.nameLocation = 'middle';
    ax.nameGap = isX ? 29 : 40;
    ax.nameTextStyle = { rich: NAME_RICH };
  }
  return ax;
}

function contourSeries(g, m, outer, inner) {
  const cx = inner.reduce((s, p) => s + p[0], 0) / inner.length;
  const cy = inner.reduce((s, p) => s + p[1], 0) / inner.length;
  return {
    type: 'custom', name: MODELS[m], coordinateSystem: 'cartesian2d',
    xAxisIndex: 2 * g, yAxisIndex: 2 * g, clip: true, silent: true,
    itemStyle: { color: INNER_FILL[m] },
    data: [[cx, cy]],
    renderItem: (params, api) => {
      const po = outer.map(p => api.coord(p));
      const pi = inner.map(p => api.coord(p));
      const hole = signedArea(po) * signedArea(pi) > 0 ? pi.slice().reverse() : pi;
      return {
        type: 'group',
        children: [
          { type: 'path', shape: { pathData: closedPath(po) + closedPath(hole) }, style: { fill: OUTER_FILL[m], stroke: EDGE[m], lineWidth: 0.8 } },
          { type: 'path', shape: { pathData: closedPath(pi) }, style: { fill: INNER_FILL[m], stroke: EDGE[m], lineWidth: 0.6 } }
        ]
      };
    }
  };
}

const grids = [], xAxes = [], yAxes = [], series = [];
let g = 0;
for (let i = 0; i < 7; i++) {
  for (let j = 0; j <= i; j++) {
    const diag = i === j;
    grids.push({ left: X0 + j * CW, top: Y0 + i * CH, width: CW, height: CH });
    const xr = xRange[j];
    const yr = diag ? [0, 1.1] : yRange[i];
    xAxes.push(makeAxis(g, 'bottom', xr, xTicks[j], xTickLabels[j], true, i === 6, i === 6 ? axisTitles[j] : ''));
    xAxes.push(makeAxis(g, 'top', xr, xTicks[j], null, !diag, false, ''));
    yAxes.push(makeAxis(g, 'left', yr, diag ? [] : yTicks[i], diag ? null : yTickLabels[i], !diag, j === 0 && !diag, j === 0 && !diag ? axisTitles[i] : ''));
    yAxes.push(makeAxis(g, 'right', yr, diag ? [] : yTicks[i], null, !diag, false, ''));

    if (diag) {
      marginals[i].forEach(([m, pts]) => {
        series.push({
          type: 'line', name: MODELS[m], xAxisIndex: 2 * g, yAxisIndex: 2 * g,
          data: pts, smooth: 0.35, showSymbol: false, symbol: 'none', silent: true, z: 3,
          lineStyle: { color: LINE_COLORS[m], width: 1.5 }, itemStyle: { color: LINE_COLORS[m] }
        });
      });
    } else {
      (panels[i + ',' + j] || []).forEach(([m, outer, inner]) => series.push(contourSeries(g, m, outer, inner)));
    }
    // dashed fiducial lines
    series.push({
      type: 'line', xAxisIndex: 2 * g, yAxisIndex: 2 * g, data: [], silent: true, z: 6,
      markLine: {
        silent: true, symbol: ['none', 'none'], label: { show: false }, animation: false,
        lineStyle: { color: '#7a7a7a', type: [5, 3], width: 1.25 },
        data: diag ? [{ xAxis: fiducial[j] }] : [{ xAxis: fiducial[j] }, { yAxis: fiducial[i] }]
      }
    });
    g++;
  }
}

const chart = echarts.init(document.getElementById('chart'), null, { renderer: 'canvas' });
chart.setOption({
  animation: false,
  title: {
    text: 'EUCLID:PRELIMINARY', left: 501, top: 95, padding: 0,
    textStyle: { fontFamily: '"Open Sans", "Noto Sans", sans-serif', fontWeight: 'bold', fontSize: 59, color: '#ac1a69' }
  },
  legend: {
    orient: 'vertical', left: 750, top: 311.7,
    data: MODELS.map((n, m) => ({ name: n, icon: 'rect', itemStyle: { color: LEGEND_FILL[m] } })),
    itemWidth: 54, itemHeight: 20, itemGap: 8.7,
    padding: [7, 19, 9, 9],
    backgroundColor: '#fff', borderColor: '#d0d0d0', borderWidth: 1, borderRadius: 4,
    selectedMode: false,
    formatter: n => LEGEND_LABELS[MODELS.indexOf(n)],
    textStyle: { fontFamily: SERIF, fontSize: 25, color: '#111', padding: [0, 0, 0, 16], rich: LEGEND_RICH }
  },
  grid: grids,
  xAxis: xAxes,
  yAxis: yAxes,
  series: series
});
window.addEventListener('resize', () => chart.resize());
</script>
</body>
</html>
